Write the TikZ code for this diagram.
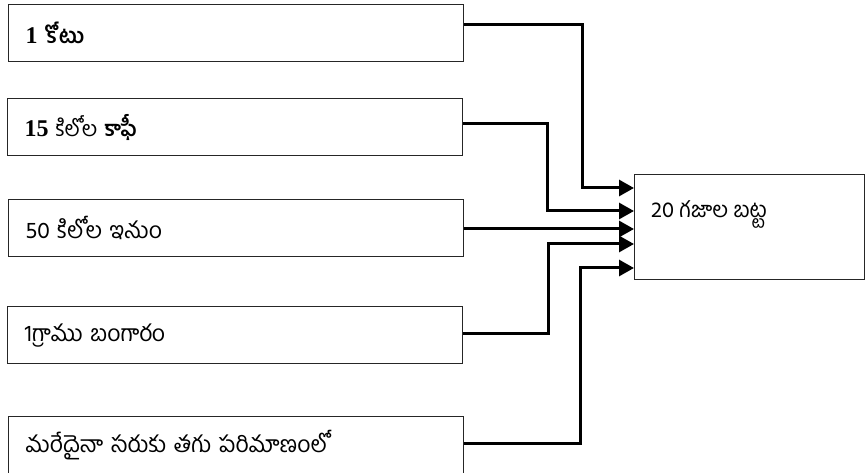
\documentclass[tikz,border=0pt]{standalone}
\usepackage{fontspec}
\setmainfont{Liberation Serif}
\newfontfamily\te[Script=Telugu]{Hind Guntur}
\newfontfamily\serifdig{Liberation Serif}
\usetikzlibrary{arrows.meta}
\begin{document}
\begin{tikzpicture}[x=1pt,y=-1pt,
  inbox/.style={draw=black!85, line width=1.2pt, rectangle, anchor=north west,
    minimum width=455pt, minimum height=57pt, inner xsep=17pt, text width=421pt,
    align=left, font=\te\fontsize{23}{25}\selectfont},
  serbox/.style={inbox, font=\te\fontsize{21.5}{24}\selectfont},
  outbox/.style={draw=black!85, line width=1.1pt, rectangle, anchor=north west,
    minimum width=230pt, minimum height=105pt},
  conn/.style={line width=3pt, -{Triangle[length=15pt,width=16pt]}}]
\useasboundingbox (0,0) rectangle (865,473);
\node[serbox] (b1) at (8,4) {{\serifdig\bfseries\fontsize{24}{26}\selectfont 1} {\bfseries కోటు}};
\node[serbox] (b2) at (7,98) {{\serifdig\bfseries\fontsize{24}{26}\selectfont 15} కిలోల {\bfseries కాఫీ}};
\node[inbox] (b3) at (8,199) {50 కిలోల ఇనుం};
\node[inbox] (b4) at (7,306) {\raisebox{-5pt}{1గ్రాము బంగారం}};
\node[inbox] (b5) at (8,416) {మరేదైనా సరుకు తగు పరిమాణంలో};
\node[outbox] (out) at (634,174) {};
\node[anchor=base west, inner sep=0pt, font=\te\fontsize{22}{24}\selectfont] (outlbl) at (651,218) {20 గజాల బట్ట};
\draw[conn] (b1.east |- 0,25) -| (582,188) -- (out.west |- 0,188);
\draw[conn] (b2.east |- 0,124) -| (547,211) -- (out.west |- 0,211);
\draw[conn] (b3.east |- 0,229) -- (out.west |- 0,229);
\draw[conn] (b4.east |- 0,333) -| (548,244) -- (out.west |- 0,244);
\draw[conn] (b5.east |- 0,443) -| (580,268) -- (out.west |- 0,268);
\end{tikzpicture}
\end{document}
